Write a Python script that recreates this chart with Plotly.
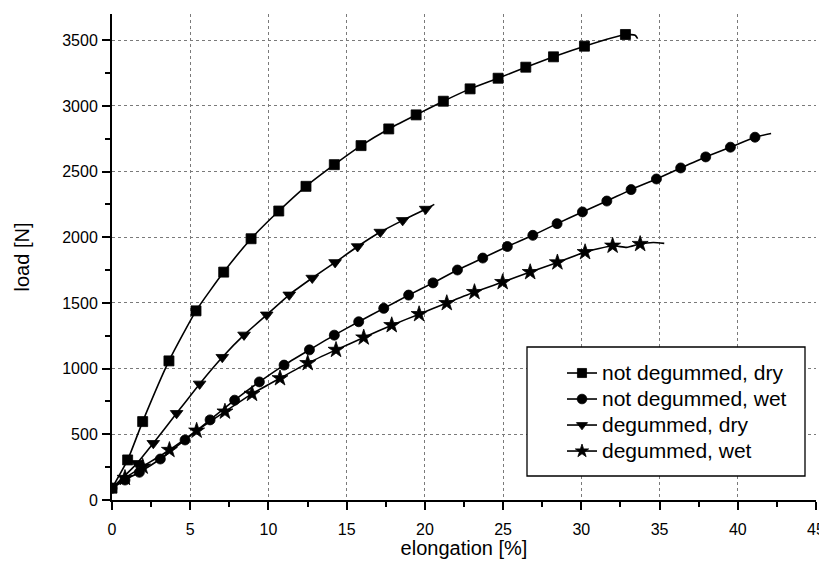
import plotly.graph_objects as go

# not degummed, dry (squares)
ndd_x = [0, 1.0, 1.96, 3.64, 5.37, 7.14, 8.89, 10.66, 12.4, 14.21, 15.92, 17.69, 19.44, 21.18, 22.89, 24.68, 26.45, 28.22, 30.2, 32.82, 33.44, 33.6]
ndd_y = [90, 305, 597, 1059, 1440, 1735, 1989, 2200, 2388, 2553, 2698, 2825, 2932, 3036, 3130, 3211, 3295, 3374, 3455, 3544, 3538, 3513]
ndd_m = [1] * 20 + [0, 0]

# not degummed, wet (circles)
ndw_x = [0, 0.83, 1.75, 3.09, 4.67, 6.27, 7.84, 9.42, 11.0, 12.62, 14.21, 15.77, 17.37, 18.96, 20.52, 22.08, 23.7, 25.27, 26.9, 28.45, 30.07, 31.63, 33.18, 34.8, 36.35, 37.95, 39.53, 41.1, 42.13]
ndw_y = [90, 152, 211, 312, 457, 610, 760, 899, 1027, 1143, 1255, 1357, 1459, 1560, 1653, 1751, 1842, 1930, 2015, 2104, 2193, 2276, 2363, 2444, 2528, 2612, 2686, 2762, 2790]
ndw_m = [1] * 28 + [0]

# degummed, dry (down triangles)
dd_x = [0, 1.6, 2.64, 4.13, 5.6, 7.05, 8.44, 9.89, 11.33, 12.8, 14.26, 15.7, 17.15, 18.58, 20.05, 20.6]
dd_y = [90, 279, 432, 660, 884, 1087, 1257, 1410, 1562, 1690, 1809, 1930, 2040, 2129, 2215, 2251]
dd_m = [0] + [1] * 14 + [0]

# degummed, wet (stars)
dw_x = [0, 0.83, 1.96, 3.67, 5.41, 7.22, 8.95, 10.74, 12.51, 14.32, 16.09, 17.88, 19.63, 21.4, 23.17, 24.97, 26.73, 28.47, 30.24, 32.0, 32.9, 33.76, 34.6, 35.3]
dw_y = [90, 168, 254, 381, 528, 673, 808, 927, 1042, 1143, 1237, 1331, 1415, 1499, 1583, 1659, 1735, 1809, 1887, 1936, 1923, 1949, 1960, 1954]
dw_m = [0] + [1] * 19 + [0, 1, 0, 0]

names = ["not degummed, dry", "not degummed, wet", "degummed, dry", "degummed, wet"]
symbols = ["square", "circle", "triangle-down", "star"]
msizes = [10, 10, 11, 12]

x_ticks = [0, 5, 10, 15, 20, 25, 30, 35, 40, 45]
y_ticks = [0, 500, 1000, 1500, 2000, 2500, 3000, 3500]

FONT = "Arial, Liberation Sans, Helvetica, sans-serif"

fig = go.Figure()
series = [(ndd_x, ndd_y, ndd_m), (ndw_x, ndw_y, ndw_m), (dd_x, dd_y, dd_m), (dw_x, dw_y, dw_m)]
for (xs, ys, ms), nm, sym, sz in zip(series, names, symbols, msizes):
    fig.add_trace(go.Scatter(
        x=xs, y=ys, name='<span style="font-size:21px">' + nm + '</span>', mode="lines+markers",
        line=dict(color="black", width=1.6, shape="spline", smoothing=0.5),
        marker=dict(symbol=sym, size=[sz * m for m in ms], color="black", opacity=1,
                    line=dict(width=0.8, color="black")),
    ))

axis_common = dict(
    showline=True, linecolor="black", linewidth=2,
    ticks="outside", ticklen=8, tickwidth=2, tickcolor="black",
    showgrid=True, gridcolor="#7a7a7a", gridwidth=1, griddash="dot",
    zeroline=False, mirror=False, automargin=False, ticklabeloverflow="allow",
    tickfont=dict(family=FONT, size=16, color="black"),
)

fig.update_xaxes(
    range=[0, 45], tickvals=x_ticks, ticklabelstandoff=6,
    title=dict(text="elongation [%]", font=dict(family=FONT, size=20, color="black"), standoff=16),
    minor=dict(dtick=2.5, tick0=0, ticks="outside", ticklen=5, tickwidth=2, tickcolor="black", showgrid=False),
    **axis_common,
)
fig.update_yaxes(
    range=[0, 3700], tickvals=y_ticks, ticklabelstandoff=1,
    title=dict(text="load [N]", font=dict(family=FONT, size=20, color="black"), standoff=27),
    minor=dict(dtick=250, tick0=0, ticks="outside", ticklen=5, tickwidth=2, tickcolor="black", showgrid=False),
    **axis_common,
)

# legend frame (paper coordinates of the plot area)
fig.add_shape(type="rect", xref="paper", yref="paper",
              x0=(527 - 112) / 704, x1=(805 - 112) / 704,
              y0=(500 - 476) / 486, y1=(500 - 347) / 486,
              line=dict(color="black", width=1.3), fillcolor="white", layer="above")

# page body has an 8px margin, so the figure is drawn 8px in from the window edge
fig.update_layout(
    width=819, height=551,
    margin=dict(l=104, r=11, t=6, b=59, autoexpand=False),
    plot_bgcolor="white", paper_bgcolor="white",
    font=dict(family=FONT, color="black"),
    legend=dict(x=(562 - 112) / 704, xanchor="left", y=(500 - 355) / 486, yanchor="top",
                bgcolor="rgba(0,0,0,0)", borderwidth=0,
                font=dict(family=FONT, size=17.7, color="black"),
                tracegroupgap=0, itemsizing="trace"),
    showlegend=True,
)

fig.write_html("out.html")
